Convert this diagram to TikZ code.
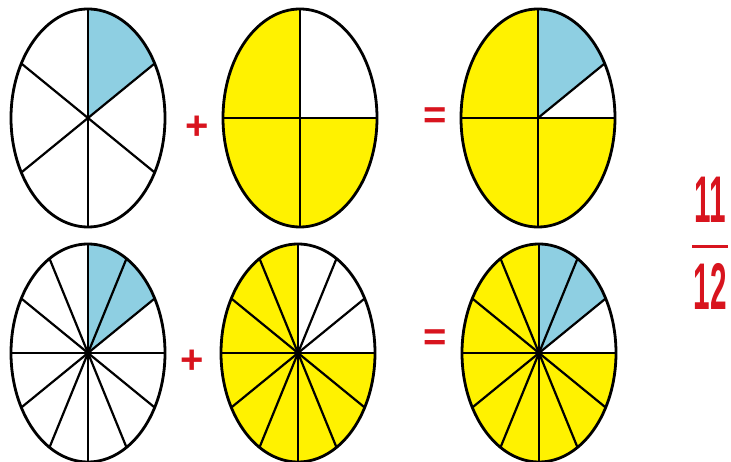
\documentclass[tikz,border=0pt]{standalone}
\usepackage{fontspec}
\setmainfont{Liberation Sans}
\usetikzlibrary{calc}
\definecolor{pieyellow}{HTML}{FFF200}
\definecolor{pieblue}{HTML}{8ECFE2}
\definecolor{signred}{HTML}{D8141E}
\begin{document}
\begin{tikzpicture}[
        x=1pt, y=1pt,
        % Viền elip
        rim/.style={draw=black, line width=2.8pt},
        % Nan chia phần
        spoke/.style={draw=black, line width=2.2pt},
        % Phần tô
        yel/.style={fill=pieyellow},
        blu/.style={fill=pieblue},
        % Dấu phép tính
        sign/.style={text=signred, font=\bfseries\fontsize{40}{40}\selectfont, inner sep=0pt},
        % Phân số
        frac/.style={text=signred, font=\bfseries\fontsize{66}{66}\selectfont, inner sep=0pt}
    ]
        \useasboundingbox (0,0) rectangle (731,462);

        % Tâm các elip
        \coordinate (pA) at (88,344);
        \coordinate (pB) at (300,344);
        \coordinate (pC) at (538,344);
        \coordinate (qA) at (88,109);
        \coordinate (qB) at (298,109);
        \coordinate (qC) at (539,109);

        % Hàng trên: 1/6 + 3/4
        \begin{scope}[shift={(pA)}]
            \fill [blu] (0,0) -- (30:77 and 109) arc [start angle=30, end angle=90, x radius=77, y radius=109] -- cycle;
            \foreach \a in {30,90,...,330}
                \draw [spoke] (0,0) -- (\a:77 and 109);
            \draw [rim] (0,0) ellipse [x radius=77, y radius=109];
        \end{scope}

        \begin{scope}[shift={(pB)}]
            \fill [yel] (0,0) ellipse [x radius=77, y radius=109];
            \fill [white] (0,0) -- (0:77 and 109) arc [start angle=0, end angle=90, x radius=77, y radius=109] -- cycle;
            \foreach \a in {0,90,...,270}
                \draw [spoke] (0,0) -- (\a:77 and 109);
            \draw [rim] (0,0) ellipse [x radius=77, y radius=109];
        \end{scope}

        \begin{scope}[shift={(pC)}]
            \fill [yel] (0,0) ellipse [x radius=77, y radius=109];
            \fill [white] (0,0) -- (0:77 and 109) arc [start angle=0, end angle=30, x radius=77, y radius=109] -- cycle;
            \fill [blu] (0,0) -- (30:77 and 109) arc [start angle=30, end angle=90, x radius=77, y radius=109] -- cycle;
            \foreach \a in {0,30,90,180,270}
                \draw [spoke] (0,0) -- (\a:77 and 109);
            \draw [rim] (0,0) ellipse [x radius=77, y radius=109];
        \end{scope}

        % Hàng dưới: 2/12 + 9/12
        \begin{scope}[shift={(qA)}]
            \fill [blu] (0,0) -- (30:77 and 109) arc [start angle=30, end angle=90, x radius=77, y radius=109] -- cycle;
            \foreach \a in {0,30,...,330}
                \draw [spoke] (0,0) -- (\a:77 and 109);
            \draw [rim] (0,0) ellipse [x radius=77, y radius=109];
        \end{scope}

        \begin{scope}[shift={(qB)}]
            \fill [yel] (0,0) ellipse [x radius=77, y radius=109];
            \fill [white] (0,0) -- (0:77 and 109) arc [start angle=0, end angle=90, x radius=77, y radius=109] -- cycle;
            \foreach \a in {0,30,...,330}
                \draw [spoke] (0,0) -- (\a:77 and 109);
            \draw [rim] (0,0) ellipse [x radius=77, y radius=109];
        \end{scope}

        \begin{scope}[shift={(qC)}]
            \fill [yel] (0,0) ellipse [x radius=77, y radius=109];
            \fill [white] (0,0) -- (0:77 and 109) arc [start angle=0, end angle=30, x radius=77, y radius=109] -- cycle;
            \fill [blu] (0,0) -- (30:77 and 109) arc [start angle=30, end angle=90, x radius=77, y radius=109] -- cycle;
            \foreach \a in {0,30,...,330}
                \draw [spoke] (0,0) -- (\a:77 and 109);
            \draw [rim] (0,0) ellipse [x radius=77, y radius=109];
        \end{scope}

        % Dấu cộng, dấu bằng
        \node [sign] (plusA) at (197,334) {+};
        \node [sign] (plusB) at (192,100) {+};
        \node [sign] (eqA) at (435,344) {=};
        \node [sign] (eqB) at (435,122) {=};

        % Kết quả
        \node [frac, anchor=south] (num) at (710,239) {\scalebox{0.45}[1]{11}};
        \node [frac, anchor=north] (den) at (710,199) {\scalebox{0.45}[1]{12}};
        \coordinate (barL) at (692,215);
        \coordinate (barR) at (728,215);
        \draw [signred, line width=3pt] (barL) -- (barR);

    \end{tikzpicture}
\end{document}
